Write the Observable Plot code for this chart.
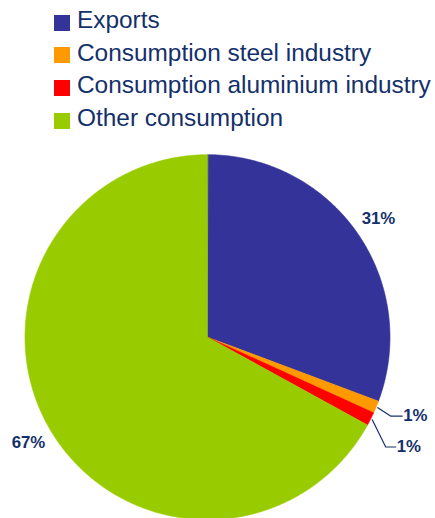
<!DOCTYPE html>
<html><head><meta charset="utf-8">
<script src="https://cdn.jsdelivr.net/npm/d3@7"></script>
<script src="https://cdn.jsdelivr.net/npm/@observablehq/plot@0.6"></script>
<style>
html,body{margin:0;padding:0;background:#fff;overflow:hidden;}
#legend{position:relative;height:138px;font-family:"Liberation Sans",Arial,sans-serif;font-size:24.4px;color:#14306b;}
.row{position:absolute;left:54px;height:33px;display:flex;align-items:center;white-space:nowrap;}
.sw{width:16px;height:16px;margin-right:7px;margin-top:5px;flex:none;}
#chart{height:380px;overflow:hidden;}
</style></head><body>
<div id="legend"></div>
<div id="chart"></div>
<script>
// ---- data ----
const categories = ["Exports", "Consumption steel industry", "Consumption aluminium industry", "Other consumption"];
const values = [30.7, 1.1, 1.2, 67.0];
const percentLabels = ["31%", "1%", "1%", "67%"];
const colors = ["#333399", "#ff9900", "#ff0000", "#99cc00"];

// ---- layout / style ----
const textColor = "#14306b";
const labelRadius = 1.14;
// leader lines for small slices: [category index, angle offset (deg), elbow radius, horizontal run]
const leaderIdx = [1, 2];
const leaderAngleOffset = [0.8, 5];
const leaderElbowR = [1.092, 1.147];
const leaderRun = [0.064, 0.055];

// legend
const legend = document.getElementById("legend");
categories.forEach((c, i) => {
  const row = document.createElement("div");
  row.className = "row";
  row.style.top = (3.5 + i * 32.7) + "px";
  const sw = document.createElement("div");
  sw.className = "sw";
  sw.style.background = colors[i];
  const t = document.createElement("span");
  t.textContent = c;
  row.append(sw, t);
  legend.append(row);
});

// pie geometry (angles clockwise from 12 o'clock)
const arcs = d3.pie().sort(null).value(d => d)(values);
const polyPoints = [];
arcs.forEach((a, i) => {
  const cat = categories[i];
  polyPoints.push({cat, x: 0, y: 0});
  const n = Math.max(2, Math.ceil((a.endAngle - a.startAngle) / (Math.PI / 360)));
  for (let k = 0; k <= n; ++k) {
    const t = a.startAngle + (a.endAngle - a.startAngle) * k / n;
    polyPoints.push({cat, x: Math.sin(t), y: Math.cos(t)});
  }
});

const mid = a => (a.startAngle + a.endAngle) / 2;
const bigLabels = arcs
  .map((a, i) => ({i, a}))
  .filter(d => !leaderIdx.includes(d.i))
  .map(({i, a}) => ({label: percentLabels[i], x: labelRadius * Math.sin(mid(a)), y: labelRadius * Math.cos(mid(a))}));

const leaderLines = [];
const leaderLabels = [];
leaderIdx.forEach((i, j) => {
  const m = mid(arcs[i]);
  const e = m + leaderAngleOffset[j] * Math.PI / 180;
  const p0 = {x: 1.01 * Math.sin(m), y: 1.01 * Math.cos(m)};
  const p1 = {x: leaderElbowR[j] * Math.sin(e), y: leaderElbowR[j] * Math.cos(e)};
  const p2 = {x: p1.x + leaderRun[j], y: p1.y};
  [p0, p1, p2].forEach(p => leaderLines.push({id: i, ...p}));
  leaderLabels.push({label: percentLabels[i], x: p2.x, y: p2.y});
});

const chart = Plot.plot({
  width: 435,
  height: 380,
  margin: 0,
  x: {domain: [-1, 1], range: [24.5, 389.5], axis: null},
  y: {domain: [-1, 1], range: [381.2, 16.2], axis: null},
  color: {domain: categories, range: colors},
  style: {fontFamily: "'Liberation Sans', Arial, sans-serif", background: "white", overflow: "hidden"},
  marks: [
    Plot.line(polyPoints, {x: "x", y: "y", z: "cat", fill: "cat", stroke: "cat", strokeWidth: 0.6, curve: "linear-closed"}),
    Plot.line(leaderLines, {x: "x", y: "y", z: "id", stroke: textColor, strokeWidth: 1.2}),
    Plot.text(bigLabels, {x: "x", y: "y", text: "label", fill: textColor, fontSize: 16.8, fontWeight: "bold", textAnchor: "middle"}),
    Plot.text(leaderLabels, {x: "x", y: "y", text: "label", fill: textColor, fontSize: 16.8, fontWeight: "bold", textAnchor: "start", dx: 1})
  ]
});
document.getElementById("chart").append(chart);
</script>
</body></html>
